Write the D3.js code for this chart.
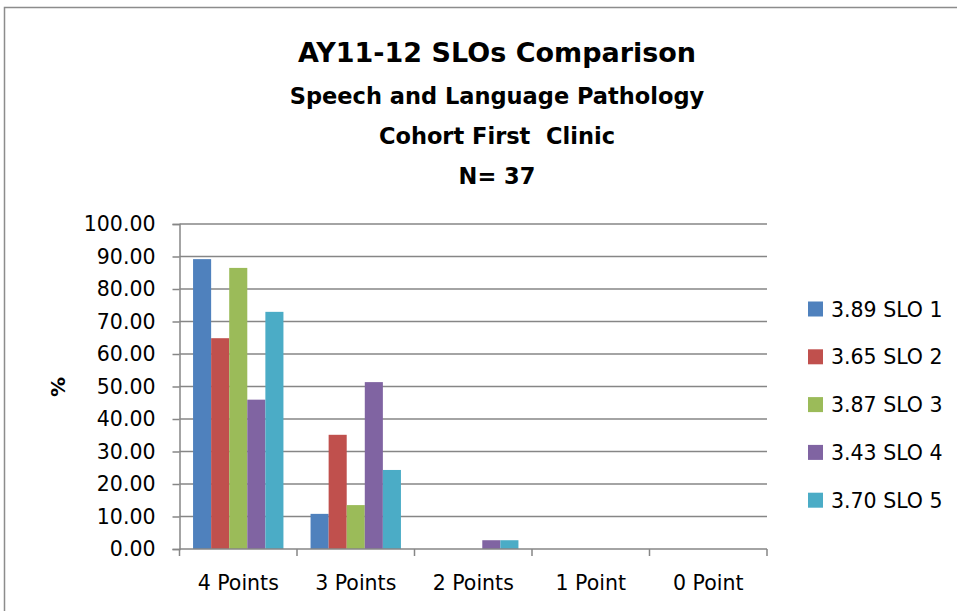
<!DOCTYPE html>
<html>
<head>
<meta charset="utf-8">
<script src="https://cdn.jsdelivr.net/npm/d3@7"></script>
<style>
  body { margin: 0; background: #fff; }
  svg { display: block; font-family: "DejaVu Sans", sans-serif; }
  text { white-space: pre; }
</style>
</head>
<body>
<div id="chart"></div>
<script>
const categories = ["4 Points", "3 Points", "2 Points", "1 Point", "0 Point"];
const seriesNames = ["3.89 SLO 1", "3.65 SLO 2", "3.87 SLO 3", "3.43 SLO 4", "3.70 SLO 5"];
const slo1 = [89.19, 10.81, 0, 0, 0];
const slo2 = [64.86, 35.14, 0, 0, 0];
const slo3 = [86.49, 13.51, 0, 0, 0];
const slo4 = [45.95, 51.35, 2.70, 0, 0];
const slo5 = [72.97, 24.32, 2.70, 0, 0];
const seriesValues = [slo1, slo2, slo3, slo4, slo5];
const colors = ["#4F81BD", "#C0504D", "#9BBB59", "#8064A2", "#4BACC6"];
const yTicks = [0, 10, 20, 30, 40, 50, 60, 70, 80, 90, 100];
const titleLines = ["Speech and Language Pathology", "Cohort First  Clinic", "N= 37"];

const width = 957, height = 611;
const margin = {top: 224, right: 190, bottom: 62, left: 179.5};

const svg = d3.select("#chart").append("svg")
    .attr("width", width)
    .attr("height", height)
    .attr("viewBox", [0, 0, width, height]);

// outer chart frame, runs off the right and bottom edge
svg.append("rect")
    .attr("x", 4.5).attr("y", 7.5)
    .attr("width", width + 20).attr("height", height + 20)
    .attr("fill", "none")
    .attr("stroke", "#8c8c8c")
    .attr("stroke-width", 1.5);

const x = d3.scaleBand()
    .domain(categories)
    .range([margin.left, width - margin.right]);

const xSub = d3.scaleBand()
    .domain(seriesNames)
    .range([0, x.bandwidth()])
    .paddingInner(0)
    .paddingOuter(0.75);

const y = d3.scaleLinear()
    .domain([0, 100])
    .range([height - margin.bottom, margin.top]);

// gridlines
svg.append("g")
    .selectAll("line")
    .data(yTicks.slice(1))
    .join("line")
        .attr("x1", margin.left)
        .attr("x2", width - margin.right)
        .attr("y1", d => y(d))
        .attr("y2", d => y(d))
        .attr("stroke", "#868686")
        .attr("stroke-width", 1.5);

// y axis
svg.append("g")
    .attr("transform", `translate(${margin.left},0)`)
    .call(d3.axisLeft(y).tickValues(yTicks).tickFormat(d3.format(".2f")).tickSize(7).tickPadding(17))
    .call(g => g.selectAll("line, path").attr("stroke", "#868686").attr("stroke-width", 1.5))
    .call(g => g.selectAll("text")
        .attr("font-family", "DejaVu Sans")
        .attr("font-size", 20.5)
        .attr("fill", "#000"));

// bars
const groups = svg.append("g")
    .selectAll("g")
    .data(seriesNames)
    .join("g")
        .attr("fill", (d, i) => colors[i]);

groups.selectAll("rect")
    .data((s, i) => categories.map((c, j) => ({cat: c, series: s, value: seriesValues[i][j]})))
    .join("rect")
        .attr("x", d => x(d.cat) + xSub(d.series))
        .attr("width", xSub.bandwidth())
        .attr("y", d => y(d.value))
        .attr("height", d => y(0) - y(d.value));

// x axis
const xTickPos = categories.map(c => x(c)).concat([x.range()[1]]);
svg.append("g")
    .selectAll("line")
    .data(xTickPos)
    .join("line")
        .attr("x1", d => d).attr("x2", d => d)
        .attr("y1", y(0)).attr("y2", y(0) + 7)
        .attr("stroke", "#868686")
        .attr("stroke-width", 1.5);

svg.append("line")
    .attr("x1", margin.left).attr("x2", width - margin.right)
    .attr("y1", y(0)).attr("y2", y(0))
    .attr("stroke", "#868686")
    .attr("stroke-width", 1.5);

svg.append("g")
    .selectAll("text")
    .data(categories)
    .join("text")
        .attr("x", d => x(d) + x.bandwidth() / 2)
        .attr("y", 590)
        .attr("text-anchor", "middle")
        .attr("font-size", 20.5)
        .text(d => d);

// y axis title
svg.append("text")
    .attr("transform", "translate(65,387) rotate(-90)")
    .attr("text-anchor", "middle")
    .attr("font-weight", "bold")
    .attr("font-size", 20)
    .text("%");

// titles
svg.append("text")
    .attr("x", 497)
    .attr("y", 62)
    .attr("text-anchor", "middle")
    .attr("font-weight", "bold")
    .attr("font-size", 27)
    .text("AY11-12 SLOs Comparison");

svg.append("g")
    .selectAll("text")
    .data(titleLines)
    .join("text")
        .attr("x", 497)
        .attr("y", (d, i) => 104 + i * 40)
        .attr("text-anchor", "middle")
        .attr("font-weight", "bold")
        .attr("font-size", 22.5)
        .text(d => d);

// legend
const legend = svg.append("g")
    .selectAll("g")
    .data(seriesNames)
    .join("g")
        .attr("transform", (d, i) => `translate(808,${309 + i * 47.8})`);

legend.append("rect")
    .attr("x", 0).attr("y", -7.5)
    .attr("width", 15).attr("height", 15)
    .attr("fill", (d, i) => colors[i]);

legend.append("text")
    .attr("x", 23)
    .attr("y", 7.5)
    .attr("font-size", 20.5)
    .text(d => d);
</script>
</body>
</html>
